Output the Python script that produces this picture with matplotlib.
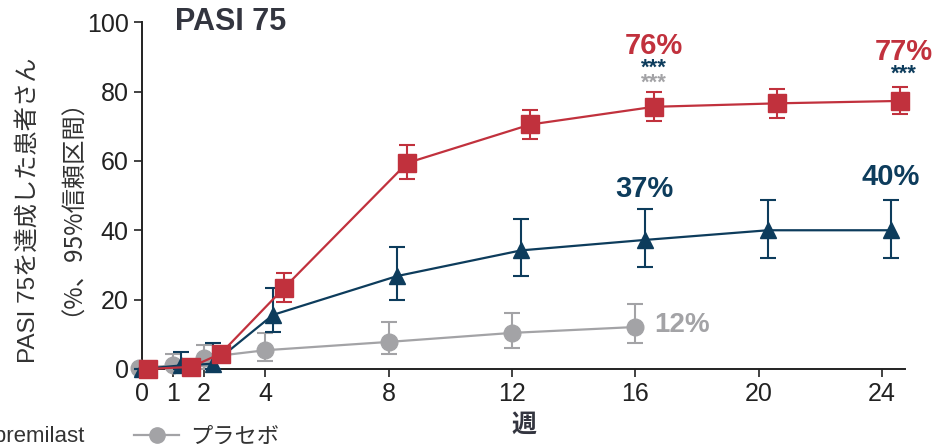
import matplotlib
matplotlib.use("Agg")
import matplotlib.pyplot as plt
from matplotlib.lines import Line2D

plt.rcParams["font.family"] = ["Liberation Sans", "Noto Sans CJK JP", "DejaVu Sans"]

# data (weeks, % of patients, 95% CI bounds)
weeks_red = [0.2, 1.6, 2.55, 4.6, 8.6, 12.6, 16.6, 20.6, 24.6]
red_val = [0, 0.6, 4.4, 23.3, 59.4, 70.5, 75.6, 76.6, 77.3]
red_lo = [0, 0.6, 4.4, 19.4, 54.8, 66.2, 71.5, 72.3, 73.5]
red_hi = [0, 0.6, 4.4, 27.7, 64.6, 74.8, 79.8, 80.7, 81.4]

weeks_blue = [0.0, 1.25, 2.3, 4.25, 8.28, 12.3, 16.3, 20.3, 24.3]
blue_val = [0, 1.0, 1.5, 15.6, 26.8, 34.2, 37.2, 40.0, 40.0]
blue_lo = [0, 0, 0, 10.7, 19.9, 26.8, 29.4, 32.0, 32.0]
blue_hi = [0, 5.0, 7.5, 23.3, 35.2, 43.2, 46.0, 48.7, 48.7]

weeks_gray = [-0.1, 1.0, 2.0, 4.0, 8.0, 12.0, 16.0]
gray_val = [0.3, 1.0, 3.3, 5.4, 7.8, 10.4, 12.1]
gray_lo = [0, 0, 0, 2.3, 4.3, 6.0, 7.5]
gray_hi = [0.3, 4.3, 7.0, 10.4, 13.5, 16.1, 18.7]

xticks = [0, 1, 2, 4, 8, 12, 16, 20, 24]
yticks = [0, 20, 40, 60, 80, 100]

RED = "#c1313d"
NAVY = "#0d3c5c"
GRAY = "#a3a3a6"
DARK = "#33353f"


def errs(v, lo, hi):
    return [[a - b for a, b in zip(v, lo)], [c - a for a, c in zip(v, hi)]]


fig = plt.figure(figsize=(9.34, 4.44), dpi=100)
ax = fig.add_axes([0.152, 0.169, 0.817, 0.781])

common = dict(lw=1.6, elinewidth=1.5, capthick=1.5, capsize=6, clip_on=False)
ax.errorbar(weeks_gray, gray_val, yerr=errs(gray_val, gray_lo, gray_hi),
            color=GRAY, marker="o", ms=12, zorder=3, **common)
ax.errorbar(weeks_blue, blue_val, yerr=errs(blue_val, blue_lo, blue_hi),
            color=NAVY, marker="^", ms=12, zorder=4, **common)
ax.errorbar(weeks_red, red_val, yerr=errs(red_val, red_lo, red_hi),
            color=RED, marker="s", ms=13, zorder=5, **common)

ax.set_xlim(0, 24.75)
ax.set_ylim(0, 100)
ax.set_xticks(xticks)
ax.set_yticks(yticks)
ax.tick_params(labelsize=18, length=6, width=1.2, color="#222222", labelcolor="#222222")
for s in ["top", "right"]:
    ax.spines[s].set_visible(False)
for s in ["left", "bottom"]:
    ax.spines[s].set_linewidth(1.4)
    ax.spines[s].set_color("#222222")

# two-line y label, drawn as figure text so each line can be sized on its own
fig.text(28 / 934, 1 - 210 / 444, "PASI 75を達成した患者さん", rotation=90,
         fontsize=17.5, color="#333333", ha="center", va="center")
fig.text(60 / 934, 1 - 195 / 444, "（%、95%信頼区間）", rotation=90,
         fontsize=17.5, color="#333333", ha="center", va="center",
         family=["Noto Sans CJK JP", "DejaVu Sans"])
ax.set_xlabel("週", fontsize=18, fontweight="bold", color=DARK, labelpad=5)

ax.text(1.07, 100, "PASI 75", fontsize=22, fontweight="bold", color=DARK,
        va="center", ha="left")

# annotations
ax.text(16.6, 93, "76%", fontsize=21, fontweight="bold", color=RED, ha="center", va="center")
ax.text(16.6, 86.8, "***", fontsize=16, fontweight="bold", color=NAVY, ha="center", va="center")
ax.text(16.6, 82.3, "***", fontsize=16, fontweight="bold", color=GRAY, ha="center", va="center")
ax.text(24.7, 91.4, "77%", fontsize=21, fontweight="bold", color=RED, ha="center", va="center",
        clip_on=False)
ax.text(24.7, 85.0, "***", fontsize=16, fontweight="bold", color=NAVY, ha="center", va="center",
        clip_on=False)
ax.text(16.3, 52, "37%", fontsize=21, fontweight="bold", color=NAVY, ha="center", va="center")
ax.text(24.3, 55.4, "40%", fontsize=21, fontweight="bold", color=NAVY, ha="center", va="center",
        clip_on=False)
ax.text(16.6, 12.7, "12%", fontsize=20, fontweight="bold", color=GRAY, ha="left", va="center")

handles = [
    Line2D([], [], color=NAVY, marker="^", ms=11, lw=1.6),
    Line2D([], [], color=GRAY, marker="o", ms=11, lw=1.6),
]
fig.legend(handles, ["Apremilast", "プラセボ"], loc="center right",
           bbox_to_anchor=(0.32, 0.016), ncol=2, frameon=False, fontsize=16,
           handlelength=2.0, columnspacing=2.2, handletextpad=0.5,
           labelcolor="#333333")

fig.savefig("out.png", dpi=100)
